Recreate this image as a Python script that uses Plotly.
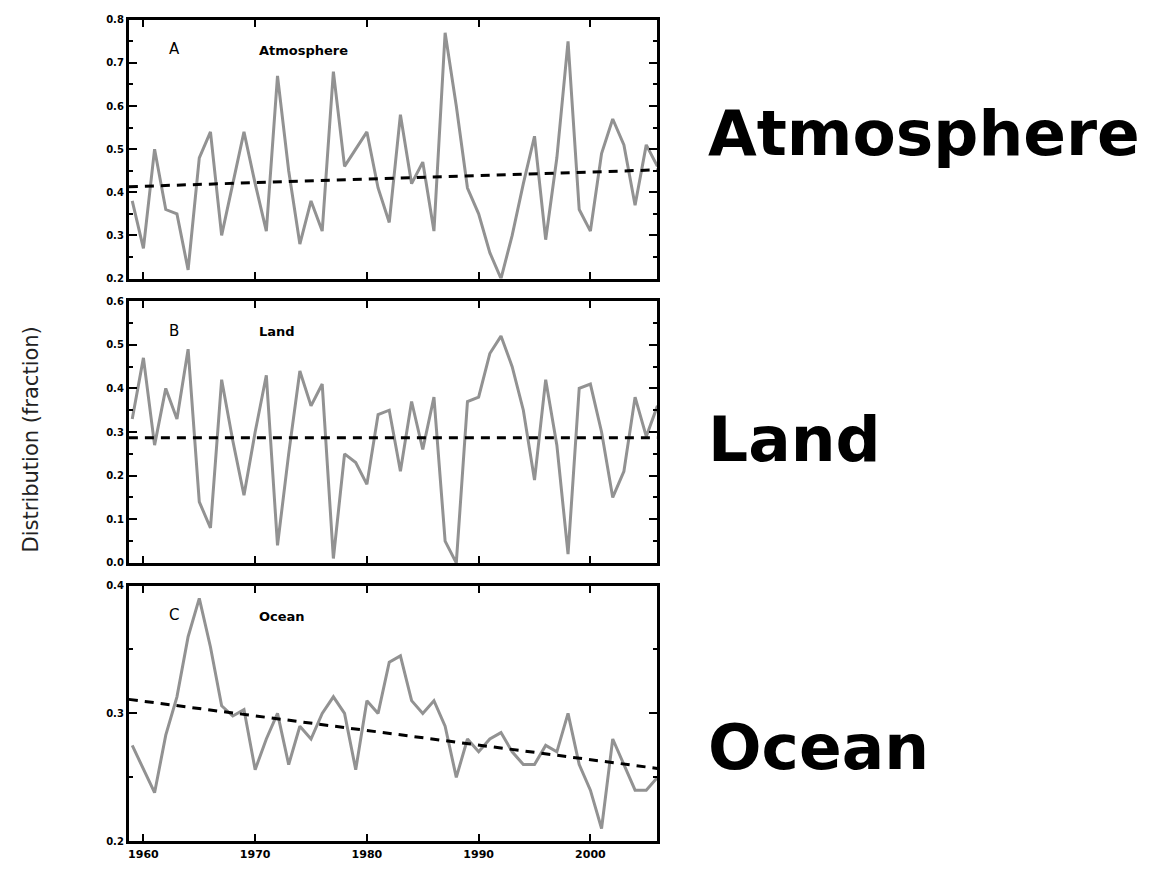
import plotly.graph_objects as go

# Annual fractions of anthropogenic CO2 emissions, 1959-2006
years = list(range(1959, 2007))

atmosphere = [0.38, 0.27, 0.50, 0.36, 0.35, 0.22, 0.48, 0.54, 0.30, 0.42,
              0.54, 0.42, 0.31, 0.67, 0.45, 0.28, 0.38, 0.31, 0.68, 0.46,
              0.50, 0.54, 0.41, 0.33, 0.58, 0.42, 0.47, 0.31, 0.77, 0.60,
              0.41, 0.35, 0.26, 0.20, 0.30, 0.42, 0.53, 0.29, 0.48, 0.75,
              0.36, 0.31, 0.49, 0.57, 0.51, 0.37, 0.51, 0.46]

land = [0.33, 0.47, 0.27, 0.40, 0.33, 0.49, 0.14, 0.08, 0.42, 0.28,
        0.155, 0.30, 0.43, 0.04, 0.25, 0.44, 0.36, 0.41, 0.01, 0.25,
        0.23, 0.18, 0.34, 0.35, 0.21, 0.37, 0.26, 0.38, 0.05, 0.00,
        0.37, 0.38, 0.48, 0.52, 0.45, 0.35, 0.19, 0.42, 0.27, 0.02,
        0.40, 0.41, 0.30, 0.15, 0.21, 0.38, 0.29, 0.36]

ocean = [0.275, 0.256, 0.238, 0.283, 0.313, 0.36, 0.39, 0.352, 0.306, 0.298,
         0.303, 0.256, 0.28, 0.30, 0.26, 0.29, 0.28, 0.30, 0.313, 0.30,
         0.256, 0.31, 0.30, 0.34, 0.345, 0.31, 0.30, 0.31, 0.29, 0.25,
         0.28, 0.27, 0.28, 0.285, 0.27, 0.26, 0.26, 0.275, 0.27, 0.30,
         0.26, 0.24, 0.21, 0.28, 0.26, 0.24, 0.24, 0.25]

# Linear trend end points (first and last year)
trend_years = [1958.7, 2006.0]
atmosphere_trend = [0.413, 0.452]
land_trend = [0.287, 0.287]
ocean_trend = [0.311, 0.257]

x_ticks = [1960, 1970, 1980, 1990, 2000]

panels = [
    # (series, trend, y range, major step, minor step, letter, name, y domain)
    (atmosphere, atmosphere_trend, [0.2, 0.8], 0.1, 0.05, "A", "Atmosphere", [0.6827, 0.9828]),
    (land, land_trend, [0.0, 0.6], 0.1, 0.05, "B", "Land", [0.3528, 0.6564]),
    (ocean, ocean_trend, [0.2, 0.4], 0.1, 0.05, "C", "Ocean", [0.0298, 0.3265]),
]

fig = go.Figure()
x_domain = [128 / 1153, 657 / 1153]
tick_font = dict(family="DejaVu Sans", size=10, color="black", weight="bold")

for i, (series, trend, yr, step, minor, letter, name, ydom) in enumerate(panels):
    n = "" if i == 0 else str(i + 1)
    xa, ya = "x" + n, "y" + n
    fig.add_trace(go.Scatter(x=years, y=series, mode="lines", xaxis=xa, yaxis=ya,
                             line=dict(color="#929292", width=3), showlegend=False))
    fig.add_trace(go.Scatter(x=trend_years, y=trend, mode="lines", xaxis=xa, yaxis=ya,
                             line=dict(color="black", width=3, dash="9px,7px"),
                             showlegend=False))
    fig.layout["xaxis" + n] = dict(
        domain=x_domain, anchor=ya, range=[1958.7, 2006.0],
        tickvals=x_ticks, ticktext=[str(v) for v in x_ticks],
        showticklabels=(i == 2), ticks="inside", ticklen=7, tickwidth=2,
        tickcolor="black", showline=True, linewidth=3, linecolor="black",
        mirror="allticks", showgrid=False, zeroline=False,
        tickfont=dict(family="DejaVu Sans", size=11, color="black", weight="bold"),
    )
    fig.layout["yaxis" + n] = dict(
        domain=ydom, anchor=xa, range=yr, dtick=step, tick0=yr[0],
        tickformat=".1f", ticks="inside", ticklen=8, tickwidth=2, tickcolor="black",
        minor=dict(ticks="inside", ticklen=4, dtick=minor, tickwidth=2, tickcolor="black"),
        showline=True, linewidth=3, linecolor="black", mirror="allticks",
        showgrid=False, zeroline=False, tickfont=tick_font,
    )
    # panel letter and small title inside the frame
    top_px = 873 * (1 - ydom[1])
    fig.add_annotation(text=letter, xref="paper", yref="paper",
                       x=166 / 1153, y=1 - (top_px + 30) / 873, yanchor="middle",
                       showarrow=False, font=dict(family="DejaVu Sans", size=15, color="black"))
    fig.add_annotation(text="<b>" + name + "</b>", xref="paper", yref="paper",
                       x=256 / 1153, y=1 - (top_px + 31) / 873,
                       xanchor="left", yanchor="middle", showarrow=False,
                       font=dict(family="DejaVu Sans", size=13, color="black"))

# large labels on the right
for label, yc in [("Atmosphere", 130), ("Land", 440), ("Ocean", 752)]:
    fig.add_annotation(text="<b>" + label + "</b>", xref="paper", yref="paper",
                       x=706 / 1153, y=1 - yc / 873, xanchor="left", yanchor="middle",
                       showarrow=False,
                       font=dict(family="DejaVu Sans", size=63, color="black"))

fig.add_annotation(text="Distribution (fraction)", xref="paper", yref="paper",
                   x=30 / 1153, y=1 - 440 / 873, textangle=-90, showarrow=False,
                   xanchor="center", yanchor="middle",
                   font=dict(family="DejaVu Sans", size=21, color="#222222"))

fig.update_layout(width=1153, height=873, margin=dict(l=0, r=0, t=0, b=0),
                  paper_bgcolor="white", plot_bgcolor="white")

fig.write_html("out.html")
